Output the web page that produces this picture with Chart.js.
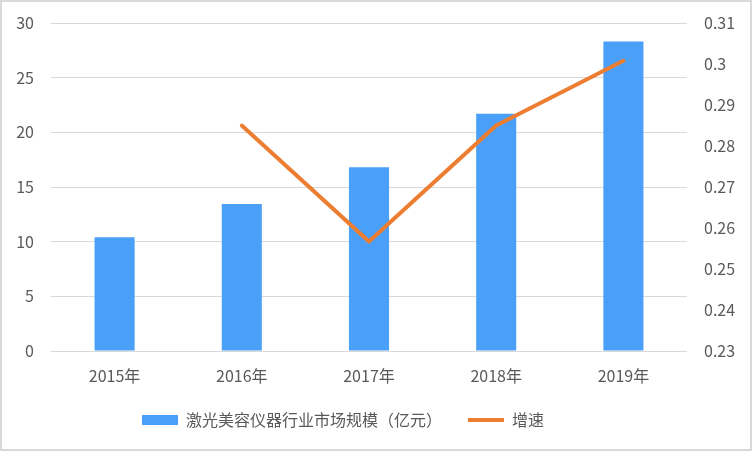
<!DOCTYPE html>
<html lang="zh">
<head>
  <meta charset="UTF-8">
  <title>激光美容仪器行业市场规模</title>
  <script src="https://cdn.jsdelivr.net/npm/chart.js"></script>
  <style>
    html, body { margin: 0; padding: 0; background: #fff; }
    .wrap { position: relative; width: 752px; height: 451px; }
    .frame { position: absolute; left: 0; top: 0; width: 752px; height: 451px; box-sizing: border-box; border: 2px solid #d9d9d9; pointer-events: none; }
    canvas { display: block; }
  </style>
</head>
<body>
  <div class="wrap">
    <canvas id="chart" width="752" height="451"></canvas>
    <div class="frame"></div>
  </div>

  <script>
    const years = ["2015年", "2016年", "2017年", "2018年", "2019年"];
    const marketSize = [10.4, 13.45, 16.8, 21.7, 28.3];
    const growthRate = [null, 0.285, 0.2567, 0.285, 0.3008];

    const FONT = "'Noto Sans CJK SC', 'Noto Sans', sans-serif";
    const TEXT = "#595959";

    // legend in the original sits a bit left of centre
    const legendShift = {
      id: "legendShift",
      afterLayout(chart) {
        chart.legend.left -= 33;
        chart.legend.right -= 33;
      }
    };

    // keep tick padding for label offset but not for the plot area
    function noTickPad(scale) {
      scale.paddingTop = 0;
      scale.paddingBottom = 0;
    }

    new Chart(document.getElementById("chart"), {
      data: {
        labels: years,
        datasets: [
          {
            type: "line",
            label: "增速",
            data: growthRate,
            yAxisID: "y2",
            borderColor: "#ed7d31",
            backgroundColor: "#ed7d31",
            borderWidth: 4,
            borderCapStyle: "round",
            borderJoinStyle: "round",
            pointRadius: 0,
            tension: 0,
            order: 0
          },
          {
            type: "bar",
            label: "激光美容仪器行业市场规模（亿元）",
            data: marketSize,
            yAxisID: "y",
            backgroundColor: "#4aa0f8",
            categoryPercentage: 1,
            barPercentage: 0.315,
            order: 1
          }
        ]
      },
      options: {
        responsive: false,
        animation: false,
        layout: { padding: { top: 23, bottom: 13, left: 0, right: 0 } },
        plugins: {
          tooltip: { enabled: false },
          legend: {
            position: "bottom",
            reverse: true,
            labels: {
              usePointStyle: true,
              pointStyleWidth: 36,
              boxHeight: 10,
              padding: 26,
              color: TEXT,
              font: { family: FONT, size: 16 },
              generateLabels(chart) {
                const items = Chart.defaults.plugins.legend.labels.generateLabels(chart);
                items.forEach(it => {
                  it.pointStyle = it.datasetIndex === 0 ? "line" : "rect";
                });
                return items;
              }
            }
          }
        },
        scales: {
          x: {
            grid: { display: false, drawTicks: false },
            border: { display: false },
            ticks: { color: TEXT, font: { family: FONT, size: 16 }, padding: 15 },
            afterFit(scale) { scale.height = 35; }
          },
          y: {
            position: "left",
            min: 0,
            max: 30,
            grid: { color: "#d9d9d9", lineWidth: 1, drawTicks: false },
            border: { display: false },
            ticks: { stepSize: 5, color: TEXT, font: { family: FONT, size: 16 }, padding: 17 },
            afterFit(scale) { scale.width = 51; noTickPad(scale); }
          },
          y2: {
            position: "right",
            min: 0.23,
            max: 0.31,
            grid: { display: false, drawTicks: false },
            border: { display: false },
            ticks: {
              stepSize: 0.01,
              color: TEXT,
              font: { family: FONT, size: 16 },
              padding: 17,
              callback: v => parseFloat(v.toFixed(2)).toString()
            },
            afterFit(scale) { scale.width = 65; noTickPad(scale); }
          }
        }
      },
      plugins: [legendShift]
    });
  </script>
</body>
</html>
